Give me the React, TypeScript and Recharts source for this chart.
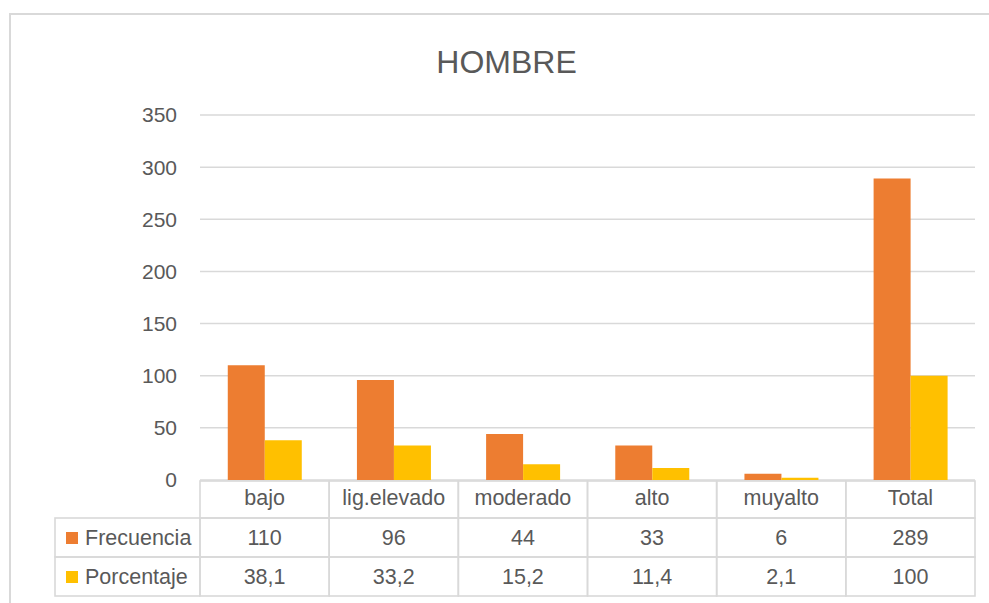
import React from 'react';
import { BarChart, Bar, XAxis, YAxis, CartesianGrid } from 'recharts';

const title = 'HOMBRE';
const categories = ['bajo', 'lig.elevado', 'moderado', 'alto', 'muyalto', 'Total'];
const frecuencia = [110, 96, 44, 33, 6, 289];
const porcentaje = [38.1, 33.2, 15.2, 11.4, 2.1, 100];
const seriesNames = ['Frecuencia', 'Porcentaje'];
const seriesColors = ['#ED7D31', '#FFC000'];
const yTicks = [0, 50, 100, 150, 200, 250, 300, 350];

const data = categories.map((c, i) => ({
  name: c,
  Frecuencia: frecuencia[i],
  Porcentaje: porcentaje[i],
}));

const W = 989;
const H = 603;
const M = { top: 115, right: 14, bottom: 0, left: 0 };
const Y_AXIS_W = 200;
const X_AXIS_H = 123;
const PLOT_W = W - M.left - M.right - Y_AXIS_W;

const FONT = '"Liberation Sans", Arial, sans-serif';
const TEXT = '#595959';
const LINE = '#d9d9d9';

const fmt = (v: number) => String(v).replace('.', ',');

const TableTick = (props: any) => {
  const { x, y, payload, index } = props;
  const n = categories.length;
  const band = props.width && props.width > 0 ? props.width / n : PLOT_W / n;
  const left = x - band / 2;
  const rows = [
    { top: y + 1, h: 37, base: y + 25 },
    { top: y + 38, h: 39, base: y + 65 },
    { top: y + 77, h: 39, base: y + 104 },
  ];
  const d = data[index] || ({} as any);
  const vals = [payload.value, String(d.Frecuencia ?? ''), fmt(d.Porcentaje ?? '')];
  const legendLeft = 55;
  return (
    <g>
      {rows.map((r, k) => (
        <rect key={'c' + k} x={left} y={r.top} width={band} height={r.h} fill="none" stroke={LINE} strokeWidth={1.6} />
      ))}
      {rows.map((r, k) => (
        <text key={'t' + k} x={x} y={r.base} textAnchor="middle" fontFamily={FONT} fontSize={21.5} fill={TEXT}>
          {vals[k]}
        </text>
      ))}
      {index === 0 &&
        seriesNames.map((s, k) => {
          const r = rows[k + 1];
          return (
            <g key={'l' + k}>
              <rect x={legendLeft} y={r.top} width={left - legendLeft} height={r.h} fill="none" stroke={LINE} strokeWidth={1.6} />
              <rect x={66} y={r.base - 13} width={12} height={12} fill={seriesColors[k]} />
              <text x={85} y={r.base} fontFamily={FONT} fontSize={21.5} fill={TEXT}>
                {s}
              </text>
            </g>
          );
        })}
    </g>
  );
};

export default function App() {
  return (
    <div style={{ position: 'absolute', left: 0, top: 0, width: W, height: H, overflow: 'hidden', background: '#fff' }}>
      <svg width={W} height={H} style={{ position: 'absolute', left: 0, top: 0 }}>
        <rect x={10} y={14} width={1010} height={620} fill="none" stroke={LINE} strokeWidth={2} />
        <text x={506.5} y={73} textAnchor="middle" fontFamily={FONT} fontSize={32} fill={TEXT}>
          {title}
        </text>
      </svg>
      <div style={{ position: 'absolute', left: 0, top: 0 }}>
        <BarChart width={W} height={H} data={data} margin={M} barCategoryGap="21.5%" barGap={0}>
          <CartesianGrid vertical={false} stroke={LINE} strokeWidth={1.5} />
          <XAxis
            dataKey="name"
            height={X_AXIS_H}
            axisLine={false}
            tickLine={false}
            tickSize={0}
            tickMargin={0}
            interval={0}
            tick={<TableTick />}
          />
          <YAxis
            width={Y_AXIS_W}
            domain={[0, 350]}
            ticks={yTicks}
            axisLine={false}
            tickLine={false}
            tickSize={0}
            tickMargin={23}
            tick={{ fill: TEXT, fontFamily: FONT, fontSize: 21 }}
          />
          {seriesNames.map((s, k) => (
            <Bar key={s} dataKey={s} fill={seriesColors[k]} isAnimationActive={false} />
          ))}
        </BarChart>
      </div>
    </div>
  );
}
